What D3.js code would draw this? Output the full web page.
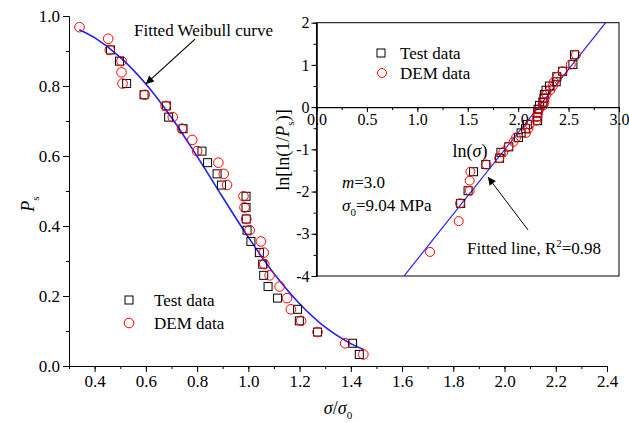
<!DOCTYPE html>
<html>
<head>
<meta charset="utf-8">
<script src="https://cdn.jsdelivr.net/npm/d3@7"></script>
<style>
  body { margin: 0; background: #fff; }
  text { font-family: "Liberation Serif", "Times New Roman", serif; fill: #000; }
</style>
</head>
<body>
<div id="chart"></div>
<script>
// main plot: survival probability vs normalised stress
var testRatio = [0.462, 0.497, 0.525, 0.593, 0.680, 0.689, 0.745, 0.819, 0.841, 0.878, 0.895, 0.991, 0.991,
                 0.992, 0.995, 1.010, 1.043, 1.056, 1.060, 1.077, 1.114, 1.192, 1.199, 1.270, 1.407, 1.433];
var testPs    = [0.903, 0.871, 0.807, 0.775, 0.743, 0.711, 0.678, 0.614, 0.581, 0.549, 0.517, 0.485, 0.453,
                 0.420, 0.388, 0.356, 0.324, 0.291, 0.259, 0.227, 0.194, 0.162, 0.129, 0.097, 0.065, 0.033];
var demRatio  = [0.341, 0.453, 0.459, 0.505, 0.505, 0.509, 0.596, 0.677, 0.705, 0.741, 0.781, 0.800, 0.883, 0.904, 0.917,
                 0.981, 0.985, 0.992, 1.005, 1.049, 1.060, 1.062, 1.083, 1.122, 1.151, 1.166, 1.206, 1.270, 1.378, 1.449];
var demPs     = [0.968, 0.935, 0.903, 0.871, 0.839, 0.807, 0.775, 0.743, 0.711, 0.678, 0.646, 0.614, 0.581, 0.549, 0.517,
                 0.485, 0.453, 0.420, 0.388, 0.356, 0.324, 0.291, 0.259, 0.227, 0.194, 0.162, 0.129, 0.097, 0.065, 0.033];
// fitted Weibull curve
var curveRatio = [0.34, 0.40, 0.50, 0.60, 0.70, 0.80, 0.90, 1.00, 1.10, 1.20, 1.30, 1.40, 1.45];
var curvePs    = [0.961, 0.938, 0.882, 0.806, 0.710, 0.599, 0.482, 0.368, 0.264, 0.178, 0.111, 0.064, 0.047];

// inset: Weibull plot
var testLnSigma = [1.430, 1.503, 1.557, 1.679, 1.816, 1.829, 1.907, 2.002, 2.029, 2.072, 2.091, 2.193, 2.193,
                   2.194, 2.197, 2.212, 2.244, 2.256, 2.260, 2.276, 2.310, 2.377, 2.383, 2.441, 2.543, 2.559];
var testLnLn    = [-2.28, -1.98, -1.53, -1.36, -1.21, -1.07, -0.94, -0.72, -0.61, -0.51, -0.41, -0.32, -0.23,
                   -0.14, -0.05, 0.04, 0.12, 0.21, 0.30, 0.40, 0.50, 0.60, 0.72, 0.85, 1.01, 1.24];
var demLnSigma  = [1.126, 1.410, 1.423, 1.519, 1.519, 1.526, 1.684, 1.812, 1.852, 1.902, 1.955, 1.979, 2.077, 2.101, 2.115,
                   2.183, 2.187, 2.194, 2.207, 2.250, 2.260, 2.262, 2.281, 2.317, 2.342, 2.355, 2.389, 2.441, 2.522, 2.573];
var demLnLn     = [-3.43, -2.70, -2.28, -1.98, -1.74, -1.53, -1.36, -1.21, -1.07, -0.94, -0.82, -0.72, -0.61, -0.51, -0.41,
                   -0.32, -0.23, -0.14, -0.05, 0.04, 0.12, 0.21, 0.30, 0.40, 0.50, 0.60, 0.72, 0.85, 1.01, 1.24];
var fitLnSigma = [0.868, 2.868];
var fitLnLn    = [-4, 2];

var xTicks = [0.4, 0.6, 0.8, 1.0, 1.2, 1.4, 1.6, 1.8, 2.0, 2.2, 2.4];
var yTicks = [0, 0.2, 0.4, 0.6, 0.8, 1.0];
var inXTicks = [0, 0.5, 1.0, 1.5, 2.0, 2.5, 3.0];
var inYTicks = [-4, -3, -2, -1, 0, 1, 2];

var svg = d3.select("#chart").append("svg")
    .attr("width", 629)
    .attr("height", 423);

var x = d3.scaleLinear().domain([0.3, 2.4]).range([69, 607]);
var y = d3.scaleLinear().domain([0, 1]).range([366, 16]);

function minorTicks(lo, hi, step) {
    var out = [];
    for (var v = lo; v <= hi + 1e-9; v += step) out.push(+v.toFixed(3));
    return out;
}

// main axes
svg.append("g")
    .attr("transform", "translate(0,366)")
    .call(d3.axisBottom(x).tickValues(minorTicks(0.3, 2.4, 0.1)).tickFormat("").tickSize(3).tickSizeOuter(0));
svg.append("g")
    .attr("class", "axis")
    .attr("transform", "translate(0,366)")
    .call(d3.axisBottom(x).tickValues(xTicks).tickFormat(d3.format(".1f")).tickSize(6).tickSizeOuter(0).tickPadding(3));
svg.append("g")
    .attr("transform", "translate(69,0)")
    .call(d3.axisLeft(y).tickValues(minorTicks(0, 1, 0.1)).tickFormat("").tickSize(3).tickSizeOuter(0));
svg.append("g")
    .attr("class", "axis")
    .attr("transform", "translate(69,0)")
    .call(d3.axisLeft(y).tickValues(yTicks).tickFormat(d3.format(".1f")).tickSize(6).tickSizeOuter(0).tickPadding(3));

svg.selectAll(".axis text").style("font-size", "17px").style("font-family", "Liberation Serif");
svg.selectAll("path.domain, .tick line").attr("stroke", "#000");

// main axis titles
var xt = svg.append("text").attr("x", 338).attr("y", 414).attr("text-anchor", "middle").style("font-size", "18px");
xt.append("tspan").style("font-style", "italic").text("σ");
xt.append("tspan").text("/");
xt.append("tspan").style("font-style", "italic").text("σ");
xt.append("tspan").attr("dy", 5).style("font-size", "11px").text("0");

var yt = svg.append("text").attr("transform", "translate(34,204) rotate(-90)").attr("text-anchor", "middle").style("font-size", "18px");
yt.append("tspan").style("font-style", "italic").text("P");
yt.append("tspan").attr("dy", 5).style("font-size", "11px").text("s");

// fitted curve
var curve = curveRatio.map(function(d, i) { return [d, curvePs[i]]; });
svg.append("path")
    .datum(curve)
    .attr("fill", "none")
    .attr("stroke", "#1f1fff")
    .attr("stroke-width", 1.6)
    .attr("d", d3.line().x(function(d) { return x(d[0]); }).y(function(d) { return y(d[1]); }).curve(d3.curveCatmullRom));

function drawSquares(g, xs, ys, sx, sy, half) {
    g.selectAll(null)
        .data(xs).enter()
        .append("rect")
        .attr("x", function(d) { return sx(d) - half; })
        .attr("y", function(d, i) { return sy(ys[i]) - half; })
        .attr("width", half * 2)
        .attr("height", half * 2)
        .attr("fill", "none")
        .attr("stroke", "#000")
        .attr("stroke-width", 1);
}
function drawCircles(g, xs, ys, sx, sy, r) {
    g.selectAll(null)
        .data(xs).enter()
        .append("circle")
        .attr("cx", function(d) { return sx(d); })
        .attr("cy", function(d, i) { return sy(ys[i]); })
        .attr("r", r)
        .attr("fill", "none")
        .attr("stroke", "#ff0000")
        .attr("stroke-width", 1);
}

var mainPts = svg.append("g");
drawSquares(mainPts, testRatio, testPs, x, y, 4);
drawCircles(mainPts, demRatio, demPs, x, y, 4.8);

// arrow marker
var defs = svg.append("defs");
defs.append("marker")
    .attr("id", "arrow")
    .attr("viewBox", "0 0 10 10")
    .attr("refX", 10).attr("refY", 5)
    .attr("markerWidth", 11).attr("markerHeight", 8)
    .attr("markerUnits", "userSpaceOnUse")
    .attr("orient", "auto")
    .append("path").attr("d", "M0,0L10,5L0,10z").attr("fill", "#000");

svg.append("line")
    .attr("x1", x(0.792)).attr("y1", y(0.934))
    .attr("x2", x(0.600)).attr("y2", y(0.806))
    .attr("stroke", "#000").attr("stroke-width", 1.2)
    .attr("marker-end", "url(#arrow)");
svg.append("text").attr("x", 134).attr("y", 36).style("font-size", "17px").text("Fitted Weibull curve");

// main legend
drawSquares(svg.append("g"), [0], [0], function() { return 129; }, function() { return 300; }, 4);
drawCircles(svg.append("g"), [0], [0], function() { return 129; }, function() { return 323; }, 4.8);
svg.append("text").attr("x", 154).attr("y", 306).style("font-size", "17px").text("Test data");
svg.append("text").attr("x", 154).attr("y", 329).style("font-size", "17px").text("DEM data");

// ---------- inset ----------
var ix = d3.scaleLinear().domain([0, 3]).range([316.5, 619]);
var iy = d3.scaleLinear().domain([-4, 2]).range([276, 22.7]);
var inset = svg.append("g");

inset.append("rect")
    .attr("x", ix(0)).attr("y", iy(2))
    .attr("width", ix(3) - ix(0)).attr("height", iy(-4) - iy(2))
    .attr("fill", "none").attr("stroke", "#000").attr("stroke-width", 1);

inset.append("g")
    .attr("transform", "translate(0," + iy(0) + ")")
    .call(d3.axisBottom(ix).tickValues(minorTicks(0, 3, 0.25)).tickFormat("").tickSize(3).tickSizeOuter(0));
inset.append("g")
    .attr("class", "iaxis")
    .attr("transform", "translate(0," + iy(0) + ")")
    .call(d3.axisBottom(ix).tickValues(inXTicks).tickFormat(d3.format(".1f")).tickSize(5).tickSizeOuter(0).tickPadding(2));
inset.append("g")
    .attr("transform", "translate(" + ix(0) + ",0)")
    .call(d3.axisLeft(iy).tickValues(minorTicks(-4, 2, 0.5)).tickFormat("").tickSize(3).tickSizeOuter(0));
inset.append("g")
    .attr("class", "iaxis")
    .attr("transform", "translate(" + ix(0) + ",0)")
    .call(d3.axisLeft(iy).tickValues(inYTicks).tickFormat(function(d) { return String(d); }).tickSize(5).tickSizeOuter(0).tickPadding(2));
inset.selectAll(".iaxis text").style("font-size", "16px").style("font-family", "Liberation Serif");
inset.selectAll("path.domain, .tick line").attr("stroke", "#000");

// inset titles
var ixt = inset.append("text").attr("x", 470).attr("y", 157).attr("text-anchor", "middle").style("font-size", "18px");
ixt.append("tspan").text("ln(");
ixt.append("tspan").style("font-style", "italic").text("σ");
ixt.append("tspan").text(")");

var iyt = inset.append("text").attr("transform", "translate(289,150) rotate(-90)").attr("text-anchor", "middle").style("font-size", "18px");
iyt.append("tspan").text("ln[ln(1/");
iyt.append("tspan").style("font-style", "italic").text("P");
iyt.append("tspan").attr("dy", 5).style("font-size", "11px").text("s");
iyt.append("tspan").attr("dy", -5).text(")]");

// fitted line, clipped to the inset frame
defs.append("clipPath").attr("id", "insetClip")
    .append("rect")
    .attr("x", ix(0)).attr("y", iy(2))
    .attr("width", ix(3) - ix(0)).attr("height", iy(-4) - iy(2));
inset.append("line")
    .attr("clip-path", "url(#insetClip)")
    .attr("x1", ix(fitLnSigma[0])).attr("y1", iy(fitLnLn[0]))
    .attr("x2", ix(fitLnSigma[1])).attr("y2", iy(fitLnLn[1]))
    .attr("stroke", "#1f1fff").attr("stroke-width", 1.2);

var inPts = inset.append("g");
drawSquares(inPts, testLnSigma, testLnLn, ix, iy, 4);
drawCircles(inPts, demLnSigma, demLnLn, ix, iy, 4.5);

// inset legend
drawSquares(inset.append("g"), [0], [0], function() { return 381; }, function() { return 53; }, 4);
drawCircles(inset.append("g"), [0], [0], function() { return 382; }, function() { return 73; }, 4.5);
inset.append("text").attr("x", 400).attr("y", 59).style("font-size", "17px").text("Test data");
inset.append("text").attr("x", 400).attr("y", 79).style("font-size", "17px").text("DEM data");

// inset annotations
var mt = inset.append("text").attr("x", 342).attr("y", 188).style("font-size", "17px");
mt.append("tspan").style("font-style", "italic").text("m");
mt.append("tspan").text("=3.0");
var st = inset.append("text").attr("x", 342).attr("y", 211).style("font-size", "17px");
st.append("tspan").style("font-style", "italic").text("σ");
st.append("tspan").attr("dy", 5).style("font-size", "11px").text("0");
st.append("tspan").attr("dy", -5).text("=9.04 MPa");

inset.append("line")
    .attr("x1", ix(2.098)).attr("y1", iy(-2.91))
    .attr("x2", ix(1.70)).attr("y2", iy(-1.656))
    .attr("stroke", "#000").attr("stroke-width", 1)
    .attr("marker-end", "url(#arrow)");
var ft = inset.append("text").attr("x", 467).attr("y", 254).style("font-size", "17px");
ft.append("tspan").text("Fitted line, R");
ft.append("tspan").attr("dy", -7).style("font-size", "11px").text("2");
ft.append("tspan").attr("dy", 7).text("=0.98");
</script>
</body>
</html>
